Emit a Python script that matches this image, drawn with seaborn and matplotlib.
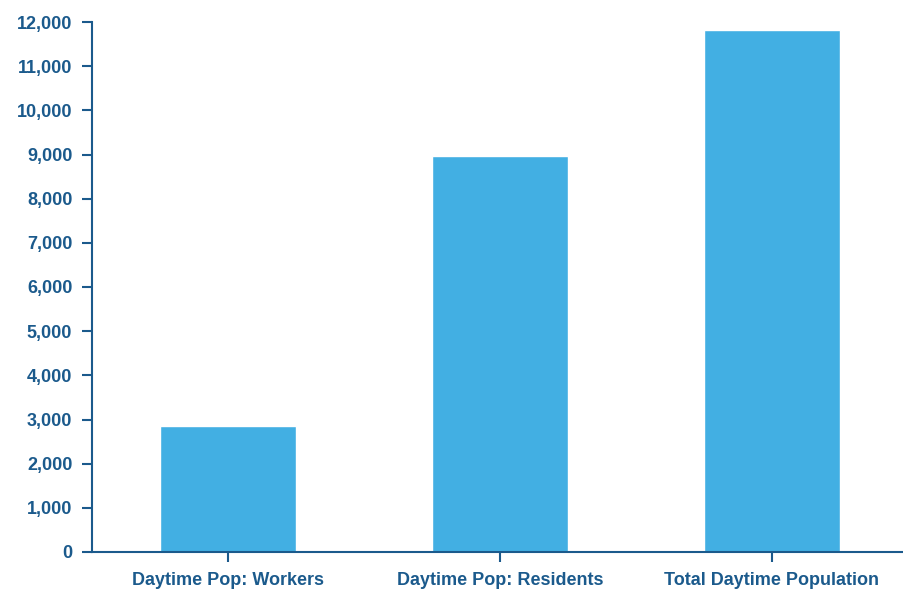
import matplotlib
matplotlib.use("Agg")
import matplotlib.pyplot as plt
import seaborn as sns
import pandas as pd
from matplotlib.ticker import FuncFormatter

# values
categories = ["Daytime Pop: Workers", "Daytime Pop: Residents", "Total Daytime Population"]
population = [2850, 8960, 11810]

bar_color = "#42afe3"
axis_color = "#1b5a8c"

df = pd.DataFrame({"Category": categories, "Population": population})

sns.set_style("white")
plt.rcParams["font.family"] = ["Liberation Sans", "DejaVu Sans"]

fig = plt.figure(figsize=(9.04, 5.92), dpi=100)
ax = fig.add_axes([92 / 904, 1 - 552 / 592, 813 / 904, 530 / 592])

sns.barplot(data=df, x="Category", y="Population", color=bar_color,
            width=0.5, saturation=1, ax=ax)

ax.set_xlim(-0.5, 2.49)
ax.set_ylim(0, 12000)
ax.set_yticks(range(0, 12001, 1000))
ax.yaxis.set_major_formatter(FuncFormatter(lambda v, p: f"{int(v):,}"))
ax.set_xlabel("")
ax.set_ylabel("")

for side in ["top", "right"]:
    ax.spines[side].set_visible(False)
for side in ["left", "bottom"]:
    ax.spines[side].set_color(axis_color)
    ax.spines[side].set_linewidth(1.5)

ax.tick_params(axis="both", bottom=True, left=True, direction="out",
               colors=axis_color, length=7.2, width=1.5, labelsize=13)
ax.tick_params(axis="y", pad=7)
ax.tick_params(axis="x", pad=7.5)
for lbl in ax.get_xticklabels() + ax.get_yticklabels():
    lbl.set_fontweight("bold")
    lbl.set_color(axis_color)

fig.savefig("out.png", dpi=100)
